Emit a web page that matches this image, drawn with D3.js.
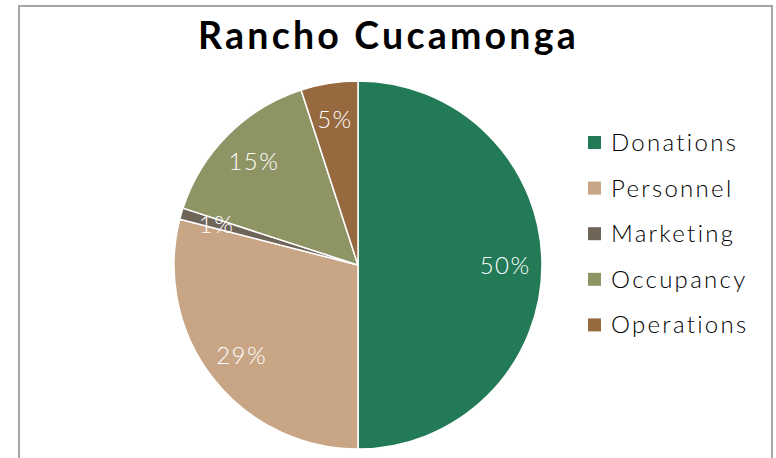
<!DOCTYPE html>
<html>
<head>
<meta charset="utf-8">
<script src="https://cdn.jsdelivr.net/npm/d3@7"></script>
<style>
  html, body { margin: 0; padding: 0; background: #fff; }
  svg { display: block; }
</style>
</head>
<body>
<svg id="chart" width="776" height="458"></svg>
<script>
// Expense breakdown for the Rancho Cucamonga location
const title = "Rancho Cucamonga";
const categories = ["Donations", "Personnel", "Marketing", "Occupancy", "Operations"];
const values = [50, 29, 1, 15, 5];
const colors = ["#237A57", "#C8A584", "#6E6457", "#8F9465", "#97693F"];

const svg = d3.select("#chart");
const font = "Lato, 'DejaVu Sans', sans-serif";

// Chart frame
svg.append("rect")
  .attr("x", 19).attr("y", 6)
  .attr("width", 753).attr("height", 470)
  .attr("fill", "#fff")
  .attr("stroke", "#a6a6a6")
  .attr("stroke-width", 2);

// Title
svg.append("text")
  .attr("x", 388.5).attr("y", 49)
  .attr("text-anchor", "middle")
  .attr("font-family", font)
  .attr("font-weight", "bold")
  .attr("font-size", 37.5)
  .attr("letter-spacing", 3.2)
  .attr("fill", "#000")
  .text(title);

// Pie
const cx = 358, cy = 265, R = 184;
const data = categories.map((c, i) => ({ name: c, value: values[i], color: colors[i] }));
const pie = d3.pie().value(d => d.value).sort(null);
const arcs = pie(data);
const arc = d3.arc().innerRadius(0).outerRadius(R);
const labelArc = d3.arc().innerRadius(R * 0.8).outerRadius(R * 0.8);

const g = svg.append("g").attr("transform", `translate(${cx},${cy})`);
g.selectAll("path.slice")
  .data(arcs)
  .join("path")
  .attr("class", "slice")
  .attr("d", arc)
  .attr("fill", d => d.data.color)
  .attr("stroke", "#fff")
  .attr("stroke-width", 1.5)
  .attr("stroke-linejoin", "round");

const fmt = d3.format(".0%");
const total = d3.sum(values);
g.selectAll("text.pct")
  .data(arcs)
  .join("text")
  .attr("class", "pct")
  .attr("transform", d => `translate(${labelArc.centroid(d)})`)
  .attr("text-anchor", "middle")
  .attr("dy", "0.36em")
  .attr("font-family", font)
  .attr("font-weight", 300)
  .attr("font-size", 24)
  .attr("letter-spacing", 1.5)
  .attr("fill", "#fff")
  .text(d => fmt(d.data.value / total));

// Legend
const legend = svg.append("g").attr("transform", "translate(587,151)");
const rowH = 45.6;
const item = legend.selectAll("g.item")
  .data(data)
  .join("g")
  .attr("class", "item")
  .attr("transform", (d, i) => `translate(0,${i * rowH})`);
item.append("rect")
  .attr("x", 1).attr("y", -15)
  .attr("width", 13).attr("height", 13)
  .attr("fill", d => d.color);
item.append("text")
  .attr("x", 24).attr("y", 0)
  .attr("font-family", font)
  .attr("font-weight", 300)
  .attr("font-size", 24)
  .attr("letter-spacing", 2.3)
  .attr("fill", "#000")
  .text(d => d.name);
</script>
</body>
</html>
